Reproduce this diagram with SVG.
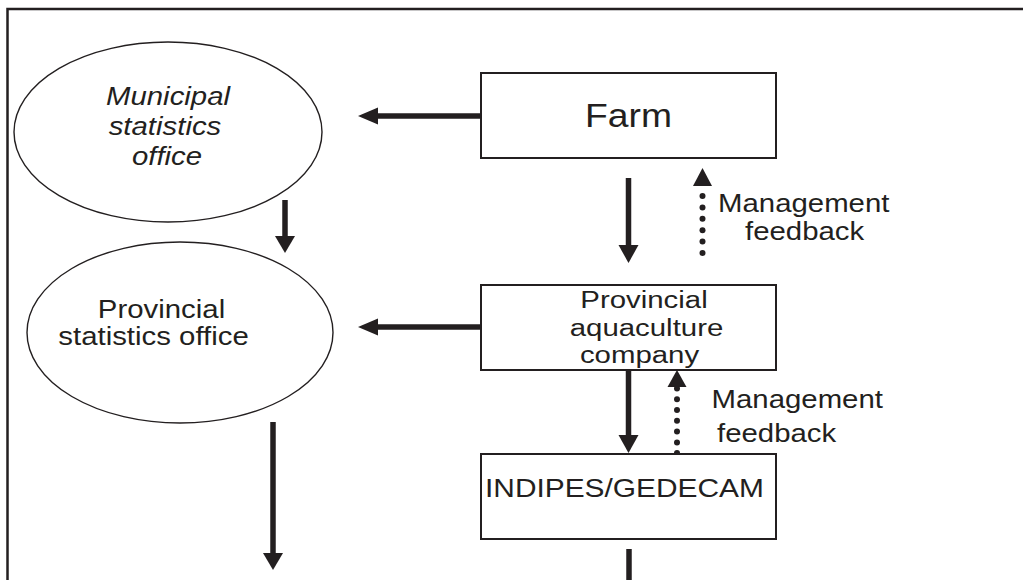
<svg xmlns="http://www.w3.org/2000/svg" width="1023" height="580" viewBox="0 0 1023 580">
<style>
text{font-family:"Liberation Sans",Arial,sans-serif;fill:#231f20;font-size:26px}
.big{font-size:33px}
.it{font-style:italic}
.sm{font-size:24.5px}
.box{fill:#fff;stroke:#231f20;stroke-width:2}
.ell{fill:#fff;stroke:#231f20;stroke-width:1.4}
.shaft{stroke:#231f20;stroke-width:5.5;fill:none}
.head{fill:#231f20}
.dot{fill:#231f20}
</style>
<rect width="1023" height="580" fill="#fff"/>
<path d="M7.5 580 V9 H1023" fill="none" stroke="#231f20" stroke-width="2.5"/>
<g id="connectors">
<line class="shaft" x1="480" y1="116" x2="376" y2="116"/>
<polygon class="head" points="358,116 378,107.5 378,124.5"/>
<line class="shaft" x1="480" y1="327" x2="376" y2="327"/>
<polygon class="head" points="358,327 378,318.5 378,335.5"/>
<line class="shaft" x1="285" y1="200" x2="285" y2="238"/>
<polygon class="head" points="285,253 275,236 295,236"/>
<line class="shaft" x1="273" y1="422" x2="273" y2="555"/>
<polygon class="head" points="273,570 263,553 283,553"/>
<line class="shaft" x1="628.5" y1="178" x2="628.5" y2="247"/>
<polygon class="head" points="628.5,263 618.5,245 638.5,245"/>
<line class="shaft" x1="628.5" y1="370" x2="628.5" y2="437"/>
<polygon class="head" points="628.5,453 618.5,435 638.5,435"/>
<line class="shaft" x1="629" y1="549" x2="629" y2="580"/>
<polygon class="head" points="702.5,168 693,186 712,186"/>
<circle class="dot" cx="702.5" cy="196" r="3"/>
<circle class="dot" cx="702.5" cy="207.4" r="3"/>
<circle class="dot" cx="702.5" cy="218.8" r="3"/>
<circle class="dot" cx="702.5" cy="230.2" r="3"/>
<circle class="dot" cx="702.5" cy="241.6" r="3"/>
<circle class="dot" cx="702.5" cy="253" r="3"/>
<polygon class="head" points="677,370 667.5,387 686.5,387"/>
<circle class="dot" cx="677" cy="388.5" r="3"/>
<circle class="dot" cx="677" cy="399.3" r="3"/>
<circle class="dot" cx="677" cy="410" r="3"/>
<circle class="dot" cx="677" cy="420.8" r="3"/>
<circle class="dot" cx="677" cy="431.6" r="3"/>
<circle class="dot" cx="677" cy="442.4" r="3"/>
<circle class="dot" cx="677" cy="453" r="3"/>
</g>
<g id="municipal">
<ellipse class="ell" cx="168" cy="132" rx="154" ry="90"/>
<text class="it" text-anchor="middle" transform="translate(168,105) scale(1.13,1)">Municipal</text>
<text class="it" text-anchor="middle" transform="translate(165,135) scale(1.13,1)">statistics</text>
<text class="it" text-anchor="middle" transform="translate(167,165) scale(1.13,1)">office</text>
</g>
<g id="provincial-stats">
<ellipse class="ell" cx="180" cy="332.5" rx="153" ry="90.5"/>
<text text-anchor="middle" transform="translate(161.5,318) scale(1.13,1)">Provincial</text>
<text text-anchor="middle" transform="translate(153.5,345) scale(1.13,1)">statistics office</text>
</g>
<g id="farm">
<rect class="box" x="481" y="73" width="295" height="85"/>
<text class="big" text-anchor="middle" transform="translate(628.5,127) scale(1.13,1)">Farm</text>
</g>
<g id="feedback1">
<text transform="translate(718,212) scale(1.13,1)">Management</text>
<text transform="translate(745,240) scale(1.13,1)">feedback</text>
</g>
<g id="aquaculture-company">
<rect class="box" x="481" y="285" width="295" height="85"/>
<text class="sm" text-anchor="middle" transform="translate(644,307.5) scale(1.2,1)">Provincial</text>
<text class="sm" text-anchor="middle" transform="translate(646.5,335.5) scale(1.2,1)">aquaculture</text>
<text class="sm" text-anchor="middle" transform="translate(639.5,362.5) scale(1.2,1)">company</text>
</g>
<g id="feedback2">
<text transform="translate(711.5,408) scale(1.13,1)">Management</text>
<text transform="translate(717,442) scale(1.13,1)">feedback</text>
</g>
<g id="indipes">
<rect class="box" x="481" y="454" width="295" height="85"/>
<text transform="translate(485,497) scale(1.15,1)">INDIPES/GEDECAM</text>
</g>
</svg>
